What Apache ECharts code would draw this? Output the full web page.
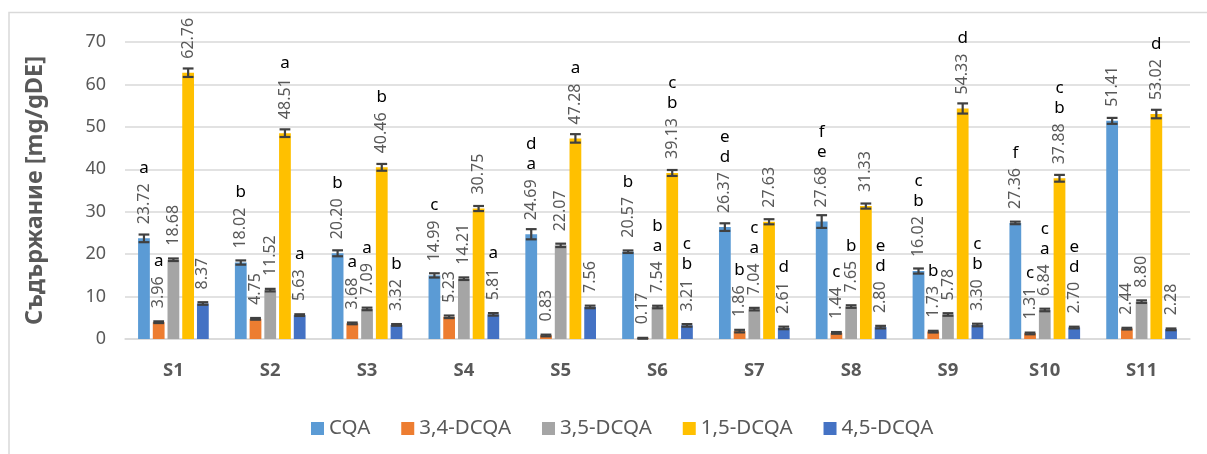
<!DOCTYPE html>
<html>
<head>
<meta charset="utf-8">
<script src="https://cdn.jsdelivr.net/npm/echarts@6/dist/echarts.min.js"></script>
<style>
html,body{margin:0;padding:0;background:#fff;}
#c{width:1207px;height:454px;}
</style>
</head>
<body>
<div id="c"></div>
<script>
const categories = ['S1','S2','S3','S4','S5','S6','S7','S8','S9','S10','S11'];
const seriesNames = ['CQA','3,4-DCQA','3,5-DCQA','1,5-DCQA','4,5-DCQA'];
const cqa    = [23.72, 18.02, 20.20, 14.99, 24.69, 20.57, 26.37, 27.68, 16.02, 27.36, 51.41];
const dcqa34 = [3.96, 4.75, 3.68, 5.23, 0.83, 0.17, 1.86, 1.44, 1.73, 1.31, 2.44];
const dcqa35 = [18.68, 11.52, 7.09, 14.21, 22.07, 7.54, 7.04, 7.65, 5.78, 6.84, 8.80];
const dcqa15 = [62.76, 48.51, 40.46, 30.75, 47.28, 39.13, 27.63, 31.33, 54.33, 37.88, 53.02];
const dcqa45 = [8.37, 5.63, 3.32, 5.81, 7.56, 3.21, 2.61, 2.80, 3.30, 2.70, 2.28];
const errCqa    = [0.9, 0.5, 0.7, 0.5, 1.2, 0.3, 0.9, 1.5, 0.6, 0.3, 0.7];
const err34     = [0.2, 0.2, 0.2, 0.3, 0.2, 0.1, 0.3, 0.2, 0.2, 0.2, 0.2];
const err35     = [0.3, 0.3, 0.3, 0.3, 0.4, 0.3, 0.3, 0.3, 0.3, 0.3, 0.3];
const err15     = [1.0, 0.9, 0.8, 0.6, 1.0, 0.7, 0.6, 0.6, 1.2, 0.8, 1.0];
const err45     = [0.3, 0.2, 0.2, 0.3, 0.3, 0.3, 0.3, 0.3, 0.3, 0.2, 0.2];
const lettersCqa = ['a','b','b','c','d\na','b','e\nd','f\ne','c\nb','f',''];
const letters34  = ['a','','a','','','','b','c','b','c',''];
const letters35  = ['','','a','','','b\na','c\na','b','','c\na',''];
const letters15  = ['','a','b','','a','c\nb','','','d','c\nb','d'];
const letters45  = ['','a','b','a','','c\nb','d','e\nd','c\nb','e\nd',''];

const values = [cqa, dcqa34, dcqa35, dcqa15, dcqa45];
const errors = [errCqa, err34, err35, err15, err45];
const letters = [lettersCqa, letters34, letters35, letters15, letters45];
const colors = ['#5B9BD5','#ED7D31','#A5A5A5','#FFC000','#4472C4'];

const FONT = '"Noto Sans", "Open Sans", sans-serif';
const CAT_GAP = 0.27, BAR_GAP = 0.25, N = 5;
const LABEL_DIST = 14;
const LABEL_SIZE = 16;
const measureCtx = document.createElement('canvas').getContext('2d');
function textLen(t){ measureCtx.font = LABEL_SIZE + 'px ' + FONT; return measureCtx.measureText(t).width; }

const chart = echarts.init(document.getElementById('c'), null, {renderer:'canvas'});

const series = [];
values.forEach((vals, i) => {
  series.push({
    name: seriesNames[i],
    type: 'bar',
    data: vals,
    itemStyle: {color: colors[i]},
    barGap: (BAR_GAP*100)+'%',
    barCategoryGap: (CAT_GAP*100)+'%',
    label: {
      show: true, position: 'top', distance: LABEL_DIST, rotate: 90,
      align: 'left', verticalAlign: 'middle',
      formatter: p => p.value.toFixed(2),
      color: '#595959', fontSize: LABEL_SIZE, fontFamily: FONT
    },
    z: 2
  });
});
values.forEach((vals, i) => {
  series.push({
    type: 'custom',
    name: seriesNames[i] + '-err',
    data: vals.map((v, k) => [k, v, errors[i][k], letters[i][k]]),
    encode: {x: 0, y: 1},
    z: 5,
    silent: true,
    renderItem: function(params, api){
      const k = api.value(0), v = api.value(1), e = api.value(2);
      const W = api.size([1, 0])[0];
      const groupW = W * (1 - CAT_GAP);
      const bw = groupW / (N + (N - 1) * BAR_GAP);
      const c = api.coord([k, v]);
      const x = c[0] - groupW / 2 + i * bw * (1 + BAR_GAP) + bw / 2;
      const top = api.coord([k, v + e])[1];
      const bot = api.coord([k, v - e])[1];
      const half = bw / 2 - 0.5;
      const st = {stroke: '#404040', lineWidth: 2.2};
      const children = [
        {type:'line', shape:{x1:x, y1:top, x2:x, y2:bot}, style:st},
        {type:'line', shape:{x1:x-half, y1:top, x2:x+half, y2:top}, style:st},
        {type:'line', shape:{x1:x-half, y1:bot, x2:x+half, y2:bot}, style:st}
      ];
      const letter = letters[i][k];
      if (letter) {
        const labEnd = c[1] - LABEL_DIST - textLen(v.toFixed(2));
        children.push({
          type: 'text',
          style: {
            text: letter, x: x, y: labEnd - 5,
            align: 'center', verticalAlign: 'bottom',
            font: '17px ' + FONT, fill: '#000', lineHeight: 20
          }
        });
      }
      return {type: 'group', children: children};
    }
  });
});

chart.setOption({
  animation: false,
  backgroundColor: '#fff',
  textStyle: {fontFamily: FONT},
  graphic: [{
    type: 'rect', shape: {x: 9, y: 12.5, width: 1300, height: 500},
    style: {fill: 'none', stroke: '#d9d9d9', lineWidth: 1.5}, silent: true, z: -10
  }],
  grid: {left: 125, right: 17, top: 42, bottom: 115},
  legend: {
    data: seriesNames,
    left: 306, top: 413,
    icon: 'rect', itemWidth: 13, itemHeight: 13, itemGap: 31,
    textStyle: {color: '#595959', fontSize: 20.5, fontFamily: FONT}
  },
  xAxis: {
    type: 'category', data: categories,
    axisLine: {lineStyle: {color: '#d9d9d9', width: 1.5}},
    axisTick: {show: false},
    axisLabel: {color: '#595959', fontSize: 18.5, fontWeight: 'bold', margin: 22, fontFamily: FONT}
  },
  yAxis: {
    type: 'value', min: 0, max: 70, interval: 10,
    name: 'Съдържание [mg/gDE]', nameLocation: 'middle', nameGap: 78, nameRotate: 90,
    nameTextStyle: {color: '#595959', fontSize: 23.5, fontWeight: 'bold', fontFamily: FONT},
    axisLine: {show: false}, axisTick: {show: false},
    axisLabel: {color: '#595959', fontSize: 18, margin: 19, fontFamily: FONT},
    splitLine: {lineStyle: {color: '#d9d9d9', width: 1.5}}
  },
  series: series
});
</script>
</body>
</html>
